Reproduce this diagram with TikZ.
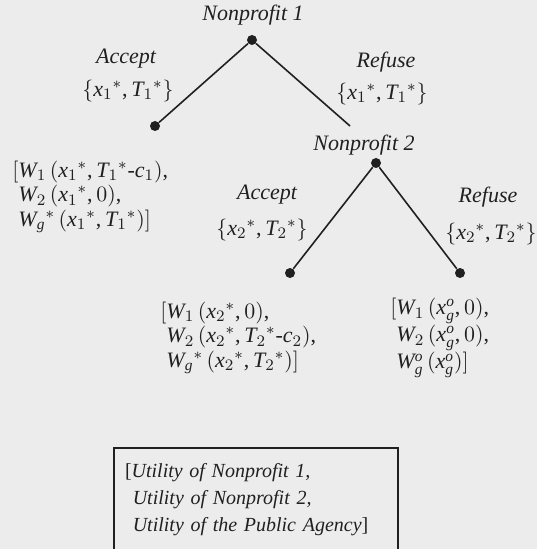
\documentclass[tikz,border=0pt]{standalone}
\usepackage{fontspec}
\setmainfont{Liberation Serif}[NFSSFamily=libserif]
\DeclareSymbolFont{letters}{TU}{libserif}{m}{it}
\AtBeginDocument{\mathcode`,="602C}
\newcommand{\st}{{}^{*}}
\definecolor{bggray}{RGB}{236,236,236}
\definecolor{inkgray}{RGB}{32,32,32}
\begin{document}
\begin{tikzpicture}[x=0.5pt,y=-0.5pt,inkgray,
  dot/.style={circle,fill=inkgray,inner sep=0pt,minimum size=5pt},
  lbl/.style={font=\fontsize{11}{13}\selectfont\itshape},
  sset/.style={font=\fontsize{11}{13}\selectfont},
  pay/.style={anchor=west,align=left,inner sep=0pt,font=\fontsize{11}{12.3}\selectfont},
  branch/.style={line width=0.8pt}]
\useasboundingbox (0,0) rectangle (537,549);
\fill[bggray] (0,0) rectangle (537,549);
\clip (0,0) rectangle (537,549);
% first mover
\node[dot] (np1) at (252,40) {};
\node[lbl] (np1l) at (253,15) {Nonprofit 1};
\node[dot] (acc1) at (155,126) {};
\coordinate (ref1) at (350,126);
\draw[branch] (np1)--(acc1);  \draw[branch] (np1)--(ref1);
\node[lbl] (acc1l) at (126,59) {Accept};
\node[sset] (acc1s) at (128,91) {$\{x_1\st, T_1\st\}$};
\node[lbl] (ref1l) at (386,62) {Refuse};
\node[sset] (ref1s) at (382,94) {$\{x_1\st, T_1\st\}$};
\node[pay] (pay1) at (12,197) {$[W_1\,(x_1\st,T_1\st\mbox{-}c_1),$\\
  $\phantom{[}W_2\,(x_1\st,0),$\\
  $\phantom{[}W_g\st\,(x_1\st,T_1\st)]$};
% second mover
\node[dot] (np2) at (376,163) {};
\node[lbl] (np2l) at (364,145) {Nonprofit 2};
\node[dot] (acc2) at (290,273) {};
\node[dot] (ref2) at (460,273) {};
\draw[branch] (np2)--(acc2);  \draw[branch] (np2)--(ref2);
\node[lbl] (acc2l) at (267,195) {Accept};
\node[sset] (acc2s) at (262,230) {$\{x_2\st, T_2\st\}$};
\node[lbl] (ref2l) at (488,197) {Refuse};
\node[sset] (ref2s) at (491,234) {$\{x_2\st, T_2\st\}$};
\node[pay] (pay2) at (160,338) {$[W_1\,(x_2\st,0),$\\
  $\phantom{[}W_2\,(x_2\st, T_2\st\mbox{-}c_2),$\\
  $\phantom{[}W_g\st\,(x_2\st, T_2\st)]$};
\node[pay] (pay3) at (390,338) {$[W_1\,(x_g^o,0),$\\
  $\phantom{[}W_2\,(x_g^o,0),$\\
  $\phantom{[}W_g^o\,(x_g^o)]$};
% legend
\node[draw,line width=0.6pt,minimum width=142pt,minimum height=52pt,text width=131pt,
  inner xsep=5.5pt,align=left,font=\fontsize{10}{13.5}\selectfont\itshape]
  (legend) at (256,500) {{\upshape[}Utility of Nonprofit 1,\\
  \phantom{[}Utility of Nonprofit 2,\\
  \phantom{[}Utility of the Public Agency{\upshape]}};
\end{tikzpicture}
\end{document}
